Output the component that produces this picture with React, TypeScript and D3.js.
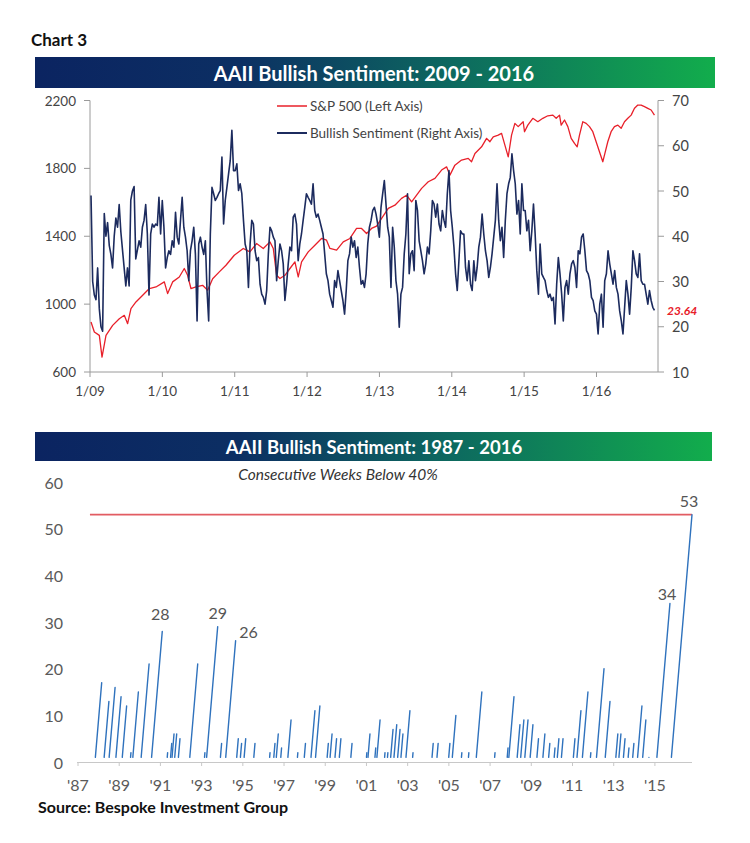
import React from "react";
import * as d3 from "d3";

// ---------- Top chart data ----------
// AAII bullish sentiment (%), evenly spaced observations from sentStart to sentEnd
const sentStart = 2009.014;
const sentEnd = 2016.801;
const sent2009_2010 = [
  49, 30, 27, 26, 33, 24, 20, 19, 45, 40, 43, 38, 36, 33, 40, 44, 42, 47, 41, 37,
  33, 29, 33, 29, 48, 50, 51, 35, 37, 39, 37.6, 42, 43.5, 47, 40.5, 27, 40.5, 42.7, 42, 42.7,
  42.4, 48.6, 40.5, 47.9, 42, 33, 35.3, 36.8, 36, 39, 37.6, 45.3, 39.8, 38.3, 43.5, 48.6, 42, 39.8,
  36.8, 30.2, 36.8, 39, 42, 36, 21.3, 38.3, 39.8, 37.6, 36, 39, 28, 21.3, 40.5, 50.8, 49.4, 47.9,
  48.6, 49.4, 50.1, 57.5, 42.7, 47.9, 50.8, 53.8, 56.7, 63.4, 54.5,
];
const sent2011_2012 = [
  54.5, 56, 50.1, 51.6, 49.4, 43.5, 38.3, 36.8, 28.7, 38.3, 43.5, 42.7, 36.8, 34.6, 35.3, 29.4,
  27.2, 26.5, 25, 28, 36.1, 42, 41.2, 39.8, 39, 30.2, 34.6, 38.3, 36.8, 33.9, 25.8, 29.4, 33.9,
  37.6, 36.8, 44.2, 44.9, 42.7, 34.6, 38.3, 40.5, 43.5, 46.4, 49.4, 48.6, 47.9, 47.1, 51.6, 45.7,
  44.2, 44.9, 43.5, 42, 40.5, 36.1, 31.7, 30.2, 27.2, 25.8, 24.3, 30.2, 28.7, 32.4, 30.2, 28,
  25.8, 22.8, 28, 34.6, 36.1, 39.8, 37.6, 39, 35.3, 37.6, 33.1, 29.4, 30.2, 28.7, 31.7, 38.3,
  42, 43.5, 45.7, 46.4, 44.9, 42.7,
];
const sent2013_2014 = [
  39.8, 46.4, 49.4, 52.3, 47.1, 42, 39.8, 28.7, 42, 37.6, 30.2, 27.2, 19.9, 27.2, 28.7, 36.1,
  40.5, 49.4, 31.7, 36.1, 36.8, 32.4, 47.9, 45.7, 39, 36.8, 34.6, 31.7, 33.9, 37.6, 36.1, 41.2,
  47.9, 47.1, 44.2, 47.1, 42.7, 41.2, 45.7, 43.5, 42, 49.4, 54.5, 45.7, 42, 37.6, 31.7, 28, 34.6,
  41.2, 40.5, 40.5, 33.1, 30.2, 34.6, 29.4, 28, 34.6, 30.2, 33.1, 37.6, 39.8, 44.9, 40.5, 36.8,
  34.6, 30.9, 33.1, 36.1, 39.8, 43.5, 51.6, 43.5, 39, 42, 35.3, 43.5, 49.4, 51.6, 53, 58.2, 54.5,
  51.6, 44.9, 47.9, 40.5, 51.6, 45.7,
];
const sent2015_2016 = [
  45.7, 41.2, 43.5, 36.8, 41.2, 47.1, 40.5, 32.4, 27.2, 38.3, 31.7, 30.9, 30.2, 28, 26.5, 27.2,
  25.8, 26.5, 20.6, 29.4, 35.3, 31.7, 27.2, 21.3, 28.7, 30.2, 27.2, 31.7, 33.9, 34.6, 33.1, 28.7,
  36.8, 36.1, 39.8, 40.5, 36.8, 32.4, 31.7, 30.2, 26.5, 25.8, 23.5, 22.8, 18.4, 25, 27.2, 19.9,
  30.2, 31.7, 36.8, 33.9, 31.7, 29.4, 32.4, 28.7, 27.2, 23.5, 21.3, 18.4, 24.3, 30.2, 27.2, 22.8,
  28.7, 36.8, 34.6, 31.7, 30.9, 36.1, 30.2, 29.4, 29.4, 27.2, 25, 28, 25.8, 24.3, 23.64,
];
const sentiment = [...sent2009_2010, ...sent2011_2012, ...sent2013_2014, ...sent2015_2016];
const latestLabel = "23.64";

// S&P 500 (decimal year, level)
const spYears = [
  2009.014, 2009.06, 2009.129, 2009.166, 2009.221, 2009.313, 2009.405, 2009.474, 2009.52, 2009.566,
  2009.635, 2009.728, 2009.82, 2009.912, 2010.027, 2010.073, 2010.142, 2010.234, 2010.303, 2010.349,
  2010.395, 2010.464, 2010.556, 2010.626, 2010.695, 2010.787, 2010.879, 2010.994, 2011.118, 2011.21,
  2011.302, 2011.395, 2011.487, 2011.533, 2011.579, 2011.625, 2011.694, 2011.763, 2011.832, 2011.878,
  2011.924, 2012.016, 2012.108, 2012.2, 2012.269, 2012.316, 2012.408, 2012.5, 2012.592, 2012.684,
  2012.753, 2012.822, 2012.891, 2012.96, 2013.03, 2013.122, 2013.214, 2013.306, 2013.375, 2013.445,
  2013.514, 2013.583, 2013.675, 2013.767, 2013.859, 2013.928, 2013.974, 2014.043, 2014.135, 2014.227,
  2014.273, 2014.32, 2014.412, 2014.481, 2014.527, 2014.573, 2014.642, 2014.688, 2014.734, 2014.78,
  2014.826, 2014.872, 2014.918, 2014.987, 2015.005, 2015.051, 2015.12, 2015.189, 2015.258, 2015.327,
  2015.397, 2015.443, 2015.489, 2015.512, 2015.558, 2015.604, 2015.65, 2015.696, 2015.733, 2015.765,
  2015.811, 2015.857, 2015.903, 2015.949, 2015.995, 2016.041, 2016.087, 2016.11, 2016.156, 2016.202,
  2016.248, 2016.295, 2016.341, 2016.387, 2016.433, 2016.479, 2016.525, 2016.571, 2016.617, 2016.663,
  2016.709, 2016.755, 2016.801,
];
const spValues = [
  895, 836, 816, 688, 816, 875, 914, 934, 885, 974,
  1013, 1052, 1092, 1101, 1131, 1062, 1131, 1160, 1210, 1170,
  1092, 1101, 1111, 1082, 1150, 1190, 1229, 1288, 1328, 1308,
  1357, 1328, 1367, 1328, 1170, 1151, 1170, 1210, 1249, 1160,
  1249, 1308, 1347, 1387, 1377, 1328, 1318, 1367, 1387, 1446,
  1446, 1416, 1446, 1460, 1505, 1564, 1583, 1623, 1642, 1603,
  1642, 1682, 1721, 1741, 1790, 1809, 1760, 1819, 1849, 1859,
  1839, 1888, 1927, 1977, 1957, 1986, 1996, 2006, 1937, 1868,
  1996, 2065, 2046, 2075, 2016, 2055, 2095, 2075, 2095, 2110,
  2114, 2095, 2114, 2055, 2085, 2046, 1977, 1947, 1927, 1996,
  2075, 2065, 2046, 2016, 1957, 1898, 1839, 1878, 1957, 2016,
  2046, 2055, 2036, 2075, 2095, 2114, 2154, 2173, 2173, 2164,
  2154, 2144, 2114,
];
const topYearTicks = [2009, 2010, 2011, 2012, 2013, 2014, 2015, 2016];
const leftTicks = [600, 1000, 1400, 1800, 2200];
const rightTicks = [10, 20, 30, 40, 50, 60, 70];

// ---------- Bottom chart data ----------
// consecutive weeks below 40%: streak end (decimal year) and length (weeks)
const streakEnd = [
  1988.15, 1988.5, 1988.8, 1989.09, 1989.36, 1989.57, 1989.93, 1990.45, 1991.09, 1991.35,
  1991.55, 1991.66, 1991.79, 1991.95, 1992.81, 1993.16, 1993.78, 1993.97, 1994.65, 1994.78,
  1994.94, 1995.14, 1995.59, 1996.32, 1996.56, 1996.72, 1996.88, 1997.34, 1997.67, 1998.04,
  1998.5, 1998.74, 1999.15, 1999.33, 1999.55, 1999.76, 2000.3, 2001.02, 2001.17, 2001.45,
  2001.66, 2001.9, 2002.04, 2002.29, 2002.47, 2002.63, 2002.77, 2003.11, 2003.26, 2004.24,
  2004.48, 2005.05, 2005.34, 2005.63, 2005.97, 2006.6, 2007.24, 2007.87, 2008.16, 2008.45,
  2008.64, 2008.84, 2009.08, 2009.35, 2009.66, 2009.9, 2010.15, 2010.34, 2010.54, 2011.12,
  2011.41, 2011.75, 2011.89, 2012.53, 2012.82, 2013.2, 2013.35, 2013.55, 2013.74, 2013.98,
  2014.37, 2014.56, 2014.71, 2015.73, 2016.8,
];
const streakLen = [
  17, 13, 16, 14, 12, 2, 15, 21, 28, 2,
  4, 6, 6, 5, 21, 2, 29, 4, 26, 5,
  4, 5, 4, 2, 4, 6, 3, 9, 2, 4,
  11, 12, 4, 6, 5, 5, 4, 2, 6, 3,
  9, 2, 2, 7, 8, 7, 6, 11, 2, 4,
  4, 4, 10, 2, 2, 15, 2, 3, 14, 8,
  9, 9, 8, 5, 6, 4, 3, 5, 5, 5,
  11, 15, 2, 20, 13, 6, 6, 5, 3, 4,
  12, 9, 1, 34, 53,
];
const labeledStreaks = [28, 29, 26, 34, 53];
const recordWeeks = 53;
const bottomYearTicks = [1987, 1989, 1991, 1993, 1995, 1997, 1999, 2001, 2003, 2005, 2007, 2009, 2011, 2013, 2015];
const bottomValueTicks = [0, 10, 20, 30, 40, 50, 60];
const bottomDataStart = 1987.58;

const FONT = "Lato, 'Open Sans', sans-serif";

export default function App() {
  // top scales
  const xTop = d3.scaleLinear().domain([2009, 2016.85]).range([90, 658]);
  const yLeft = d3.scaleLinear().domain([600, 2200]).range([372, 100.5]);
  const yRight = d3.scaleLinear().domain([10, 70]).range([372, 100.5]);
  const idxYear = d3.scaleLinear().domain([0, sentiment.length - 1]).range([sentStart, sentEnd]);

  const sentPath = d3
    .line<number>()
    .x((_, i) => xTop(idxYear(i)))
    .y((d) => yRight(d))(sentiment) as string;
  const spPath = d3
    .line<number>()
    .x((_, i) => xTop(spYears[i]))
    .y((d) => yLeft(d))(spValues) as string;

  // bottom scales
  const xBot = d3.scaleLinear().domain([1987, 2016.8]).range([78, 692]);
  const yBot = d3.scaleLinear().domain([0, 60]).range([762, 482]);
  const spike = d3
    .line<[number, number]>()
    .x((d) => xBot(d[0]))
    .y((d) => yBot(d[1]));
  const spikes = streakEnd.map((end, i) => {
    const len = streakLen[i];
    const pts: [number, number][] = [
      [end - (len - 1) / 52, 1],
      [end, len],
    ];
    return spike(pts) as string;
  });
  const labelOffsets: Record<number, [number, number]> = {
    28: [-2, -18],
    29: [0, -14],
    26: [13, -9],
    34: [-3, -10],
    53: [-3, -14],
  };

  const lastIdx = sentiment.length - 1;

  return (
    <svg
      width={750}
      height={843}
      style={{ position: "absolute", left: 0, top: 0, background: "#fff" }}
      fontFamily={FONT}
    >
      <defs>
        <linearGradient id="hdr" x1="0" x2="1" y1="0" y2="0">
          <stop offset="0%" stopColor="#0b2461" />
          <stop offset="30%" stopColor="#0c2f63" />
          <stop offset="62%" stopColor="#0d6a5f" />
          <stop offset="100%" stopColor="#12ad4c" />
        </linearGradient>
      </defs>
      <rect width={750} height={843} fill="#fff" />

      <text x={31} y={46} fontSize={17} fontWeight="bold" fill="#111">
        Chart 3
      </text>

      {/* ---------- top chart ---------- */}
      <rect x={35} y={57} width={680} height={31} fill="url(#hdr)" />
      <text x={374} y={73} fontSize={20} fontWeight="bold" fill="#fff" textAnchor="middle" dominantBaseline="central">
        AAII Bullish Sentiment: 2009 - 2016
      </text>

      {/* axes */}
      <g stroke="#9a9a9a" strokeWidth={1} fill="none">
        <line x1={90} x2={90} y1={100.5} y2={372} />
        <line x1={658} x2={658} y1={100.5} y2={372} />
        <line x1={90} x2={658} y1={372} y2={372} />
        {leftTicks.map((t) => (
          <line key={"lt" + t} x1={84} x2={90} y1={yLeft(t)} y2={yLeft(t)} />
        ))}
        {rightTicks.map((t) => (
          <line key={"rt" + t} x1={658} x2={664} y1={yRight(t)} y2={yRight(t)} />
        ))}
        {topYearTicks.map((t) => (
          <line key={"xt" + t} x1={xTop(t)} x2={xTop(t)} y1={372} y2={377} />
        ))}
      </g>
      <g fontSize={13.5} fill="#444">
        {leftTicks.map((t) => (
          <text key={"ll" + t} x={76} y={yLeft(t)} textAnchor="end" dominantBaseline="central">
            {t}
          </text>
        ))}
        {rightTicks.map((t) => (
          <text key={"rl" + t} x={672} y={yRight(t)} fontSize={14.5} dominantBaseline="central">
            {t}
          </text>
        ))}
        {topYearTicks.map((t) => (
          <text key={"xl" + t} x={xTop(t)} y={391} textAnchor="middle" dominantBaseline="central">
            {"1/" + String(t).slice(2)}
          </text>
        ))}
      </g>

      <path d={spPath} fill="none" stroke="#e8202a" strokeWidth={1.3} strokeLinejoin="round" />
      <path d={sentPath} fill="none" stroke="#1c2b5e" strokeWidth={1.6} strokeLinejoin="round" />

      <text
        x={667}
        y={yRight(sentiment[lastIdx])}
        fontSize={12}
        fontStyle="italic"
        fontWeight="bold"
        fill="#e8202a"
        dominantBaseline="central"
      >
        {latestLabel}
      </text>

      {/* legend */}
      <line x1={277} x2={307} y1={106} y2={106} stroke="#e8202a" strokeWidth={1.5} />
      <text x={310} y={106} fontSize={13.5} fill="#444" dominantBaseline="central">
        S&amp;P 500 (Left Axis)
      </text>
      <line x1={277} x2={307} y1={133} y2={133} stroke="#1c2b5e" strokeWidth={2} />
      <text x={310} y={133} fontSize={13.5} fill="#444" dominantBaseline="central">
        Bullish Sentiment (Right Axis)
      </text>

      {/* ---------- bottom chart ---------- */}
      <rect x={35} y={432} width={677} height={29} fill="url(#hdr)" />
      <text x={374} y={447} fontSize={18.5} fontWeight="bold" fill="#fff" textAnchor="middle" dominantBaseline="central">
        AAII Bullish Sentiment: 1987 - 2016
      </text>
      <text x={338} y={474} fontSize={15.5} fontStyle="italic" fill="#333" textAnchor="middle" dominantBaseline="central">
        Consecutive Weeks Below 40%
      </text>

      <g fontSize={16} fill="#5a5a5a">
        {bottomValueTicks.map((t) => (
          <text key={"bv" + t} x={63} y={yBot(t)} textAnchor="end" dominantBaseline="central">
            {t}
          </text>
        ))}
        {bottomYearTicks.map((t) => (
          <text key={"by" + t} x={xBot(t)} y={784} textAnchor="middle" dominantBaseline="central">
            {"'" + String(t).slice(2)}
          </text>
        ))}
      </g>
      <g stroke="#c8c8c8" strokeWidth={1}>
        <line x1={77} x2={692} y1={762.5} y2={762.5} />
        {bottomYearTicks.map((t) => (
          <line key={"bt" + t} x1={xBot(t)} x2={xBot(t)} y1={762.5} y2={766} />
        ))}
      </g>

      <line
        x1={xBot(bottomDataStart)}
        x2={xBot(streakEnd[streakEnd.length - 1])}
        y1={yBot(recordWeeks)}
        y2={yBot(recordWeeks)}
        stroke="#e25c62"
        strokeWidth={1.8}
      />

      <g fill="none" stroke="#2f72bd" strokeWidth={1.4} strokeLinecap="round">
        {spikes.map((d, i) => (
          <path key={"sp" + i} d={d} />
        ))}
      </g>

      <g fontSize={16} fill="#555">
        {streakEnd.map((end, i) => {
          const len = streakLen[i];
          if (!labeledStreaks.includes(len)) return null;
          const [dx, dy] = labelOffsets[len];
          return (
            <text key={"lab" + i} x={xBot(end) + dx} y={yBot(len) + dy} textAnchor="middle" dominantBaseline="central">
              {len}
            </text>
          );
        })}
      </g>

      <text x={38} y={806} fontSize={16} fontWeight="bold" fill="#111" dominantBaseline="central">
        Source: Bespoke Investment Group
      </text>
    </svg>
  );
}
